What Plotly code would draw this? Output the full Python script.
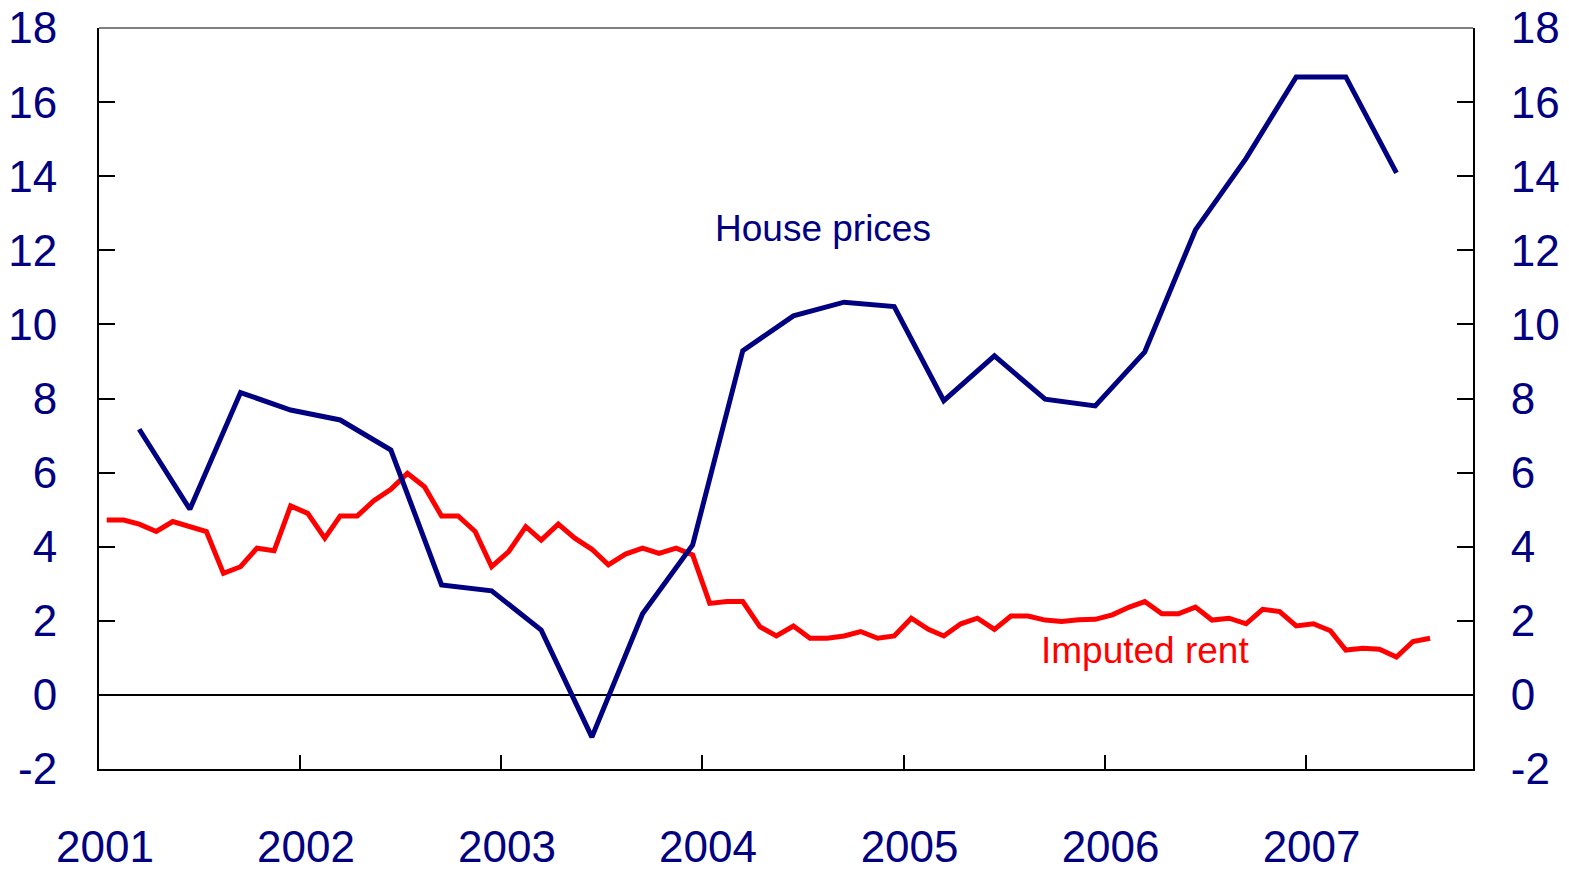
import pandas as pd
import plotly.graph_objects as go

# Monthly imputed rent, Jan 2001 - Aug 2007 (annual % change)
rent_dates = pd.date_range("2001-01-01", periods=80, freq="MS") + pd.Timedelta(days=14)
imputed_rent = [
    4.72, 4.72, 4.61, 4.41, 4.68, 4.56, 4.41, 3.28, 3.46, 3.96, 3.89, 5.10,  # 2001
    4.90, 4.23, 4.83, 4.83, 5.24, 5.55, 5.98, 5.62, 4.83, 4.83, 4.41, 3.46,  # 2002
    3.87, 4.54, 4.18, 4.61, 4.23, 3.93, 3.51, 3.80, 3.96, 3.82, 3.96, 3.78,  # 2003
    2.47, 2.52, 2.52, 1.84, 1.59, 1.86, 1.53, 1.53, 1.59, 1.71, 1.53, 1.59,  # 2004
    2.07, 1.77, 1.59, 1.92, 2.07, 1.77, 2.13, 2.13, 2.02, 1.98, 2.03, 2.04,  # 2005
    2.16, 2.37, 2.52, 2.19, 2.19, 2.37, 2.02, 2.07, 1.92, 2.31, 2.25, 1.86,  # 2006
    1.92, 1.73, 1.21, 1.26, 1.23, 1.02, 1.44, 1.53,                          # 2007
]

# Quarterly house prices, Q1 2001 - Q2 2007 (annual % change)
house_dates = pd.date_range("2001-03-01", periods=26, freq="3MS") + pd.Timedelta(days=14)
house_prices = [
    7.17, 5.01, 8.16, 7.69,
    7.42, 6.61, 2.97, 2.81,
    1.75, -1.14, 2.19, 4.05,
    9.29, 10.23, 10.60, 10.48,
    7.94, 9.15, 7.98, 7.80,
    9.26, 12.55, 14.48, 16.68,
    16.68, 14.09,
]

years = ["2001", "2002", "2003", "2004", "2005", "2006", "2007"]
year_ticks = [f"{y}-01-01" for y in years]
y_ticks = [-2, 0, 2, 4, 6, 8, 10, 12, 14, 16, 18]
y_labels = [str(v) for v in y_ticks]  # plain hyphen for -2

NAVY = "#000080"
RED = "#FF0000"
FONT = "Liberation Sans, Arial, sans-serif"

fig = go.Figure()

fig.add_trace(go.Scatter(
    x=rent_dates, y=imputed_rent, mode="lines",
    line=dict(color=RED, width=5), name="Imputed rent",
))
fig.add_trace(go.Scatter(
    x=house_dates, y=house_prices, mode="lines", yaxis="y2",
    line=dict(color=NAVY, width=5), name="House prices",
))

yaxis_common = dict(
    range=[-2, 18], tickvals=y_ticks, ticktext=y_labels,
    ticks="inside", ticklen=16, tickwidth=2,
    tickcolor="black", showline=True, linecolor="black", linewidth=2,
    showgrid=False, tickfont=dict(family=FONT, size=44, color=NAVY),
    automargin=False, fixedrange=True, ticklabeloverflow="allow",
)

# page body has an 8px margin, so the figure is sized to fit the window
fig.update_layout(
    width=1553, height=863,
    margin=dict(l=91, r=88, t=20, b=102),
    paper_bgcolor="white", plot_bgcolor="white",
    showlegend=False,
    font=dict(family=FONT),
    xaxis=dict(
        type="date", range=["2001-01-01", "2007-11-01"],
        tickvals=year_ticks, ticktext=years,
        ticks="inside", ticklen=14, tickwidth=2, tickcolor="black",
        showline=True, linecolor="black", linewidth=2, showgrid=False,
        tickfont=dict(family=FONT, size=44, color=NAVY),
        ticklabelstandoff=38, ticklabelshift=6, automargin=False,
        ticklabeloverflow="allow",
    ),
    yaxis=dict(**yaxis_common, ticklabelstandoff=31,
               zeroline=True, zerolinecolor="black", zerolinewidth=1.5),
    yaxis2=dict(**yaxis_common, ticklabelstandoff=27,
                overlaying="y", side="right", zeroline=False),
    shapes=[dict(type="line", xref="paper", yref="paper", x0=0, x1=1, y0=1, y1=1,
                 line=dict(color="black", width=1))],
    annotations=[
        dict(x="2004-08-07", y=12.6, text="House prices", showarrow=False,
             font=dict(family=FONT, size=37, color=NAVY)),
        dict(x="2006-03-16", y=1.21, text="Imputed rent", showarrow=False,
             font=dict(family=FONT, size=37, color=RED)),
    ],
)

fig.write_html("out.html")
